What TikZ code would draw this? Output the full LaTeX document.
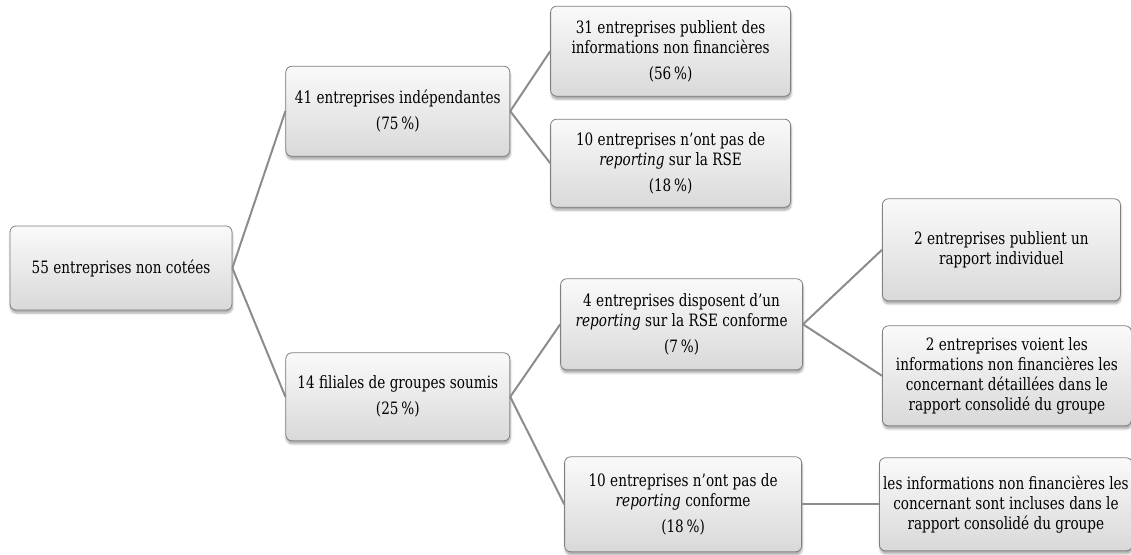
\documentclass[tikz,border=0pt]{standalone}
\usepackage{fontspec}
\setmainfont{DejaVu Serif}[FakeStretch=0.8]
\usepackage{xcolor}
\usetikzlibrary{positioning,shadows.blur}

\begin{document}
\begin{tikzpicture}[
    x=1pt, y=1pt,
    font=\fontsize{17}{20}\selectfont,
    box/.style={
        rectangle, draw=black!50, line width=0.8pt,
        top color=black!2, bottom color=black!15,
        rounded corners=6pt, align=center, inner sep=2pt,
        blur shadow={shadow xshift=0.5pt, shadow yshift=-3pt,
            shadow opacity=35, shadow blur steps=6}
    },
    branch/.style={line width=2pt, draw=black!45}
]
\useasboundingbox (0,0) rectangle (1131,-554);

% Root
\node[box, minimum width=222pt, minimum height=84pt] (root) at (121,-268) {55 entreprises non cotées};

% First level
\node[box, minimum width=224pt, minimum height=90pt, above right=69pt and 53pt of root] (indep) {41 entreprises indépendantes\\[6pt](75\,\%)};
\node[box, minimum width=224pt, minimum height=88pt, below right=42pt and 53pt of root] (filiales) {14 filiales de groupes soumis\\[6pt](25\,\%)};

% Second level
\node[box, minimum width=240pt, minimum height=90pt, right=40pt of indep, yshift=60pt] (pub31) {31 entreprises publient des\\informations non financières\\[6pt](56\,\%)};
\node[box, minimum width=240pt, minimum height=88pt, right=40pt of indep, yshift=-52pt] (norse10) {10 entreprises n’ont pas de\\\textit{reporting} sur la RSE\\[6pt](18\,\%)};
\node[box, minimum width=242pt, minimum height=91pt, right=50pt of filiales, yshift=72.5pt] (conf4) {4 entreprises disposent d’un\\\textit{reporting} sur la RSE conforme\\[6pt](7\,\%)};
\node[box, minimum width=237pt, minimum height=95pt, right=54pt of filiales, yshift=-107.5pt] (nonconf10) {10 entreprises n’ont pas de\\\textit{reporting} conforme\\[6pt](18\,\%)};

% Third level
\node[box, minimum width=238pt, minimum height=102pt, right=79pt of conf4, yshift=74.5pt] (indiv2) {2 entreprises publient un\\rapport individuel};
\node[box, minimum width=249pt, minimum height=100pt, right=79pt of conf4, yshift=-51.5pt] (groupe2) {2 entreprises voient les\\informations non financières les\\concernant détaillées dans le\\rapport consolidé du groupe};
\node[box, minimum width=253pt, minimum height=93pt, right=77pt of nonconf10] (inclus) {les informations non financières les\\concernant sont incluses dans le\\rapport consolidé du groupe};

% Branches
\draw[branch] (root.east) -- (indep.west);
\draw[branch] (root.east) -- (filiales.west);
\draw[branch] (indep.east) -- (pub31.west);
\draw[branch] (indep.east) -- (norse10.west);
\draw[branch] (filiales.east) -- (conf4.west);
\draw[branch] (filiales.east) -- (nonconf10.west);
\draw[branch] (conf4.east) -- (indiv2.west);
\draw[branch] (conf4.east) -- (groupe2.west);
\draw[branch] (nonconf10.east) -- (inclus.west);

\end{tikzpicture}
\end{document}
